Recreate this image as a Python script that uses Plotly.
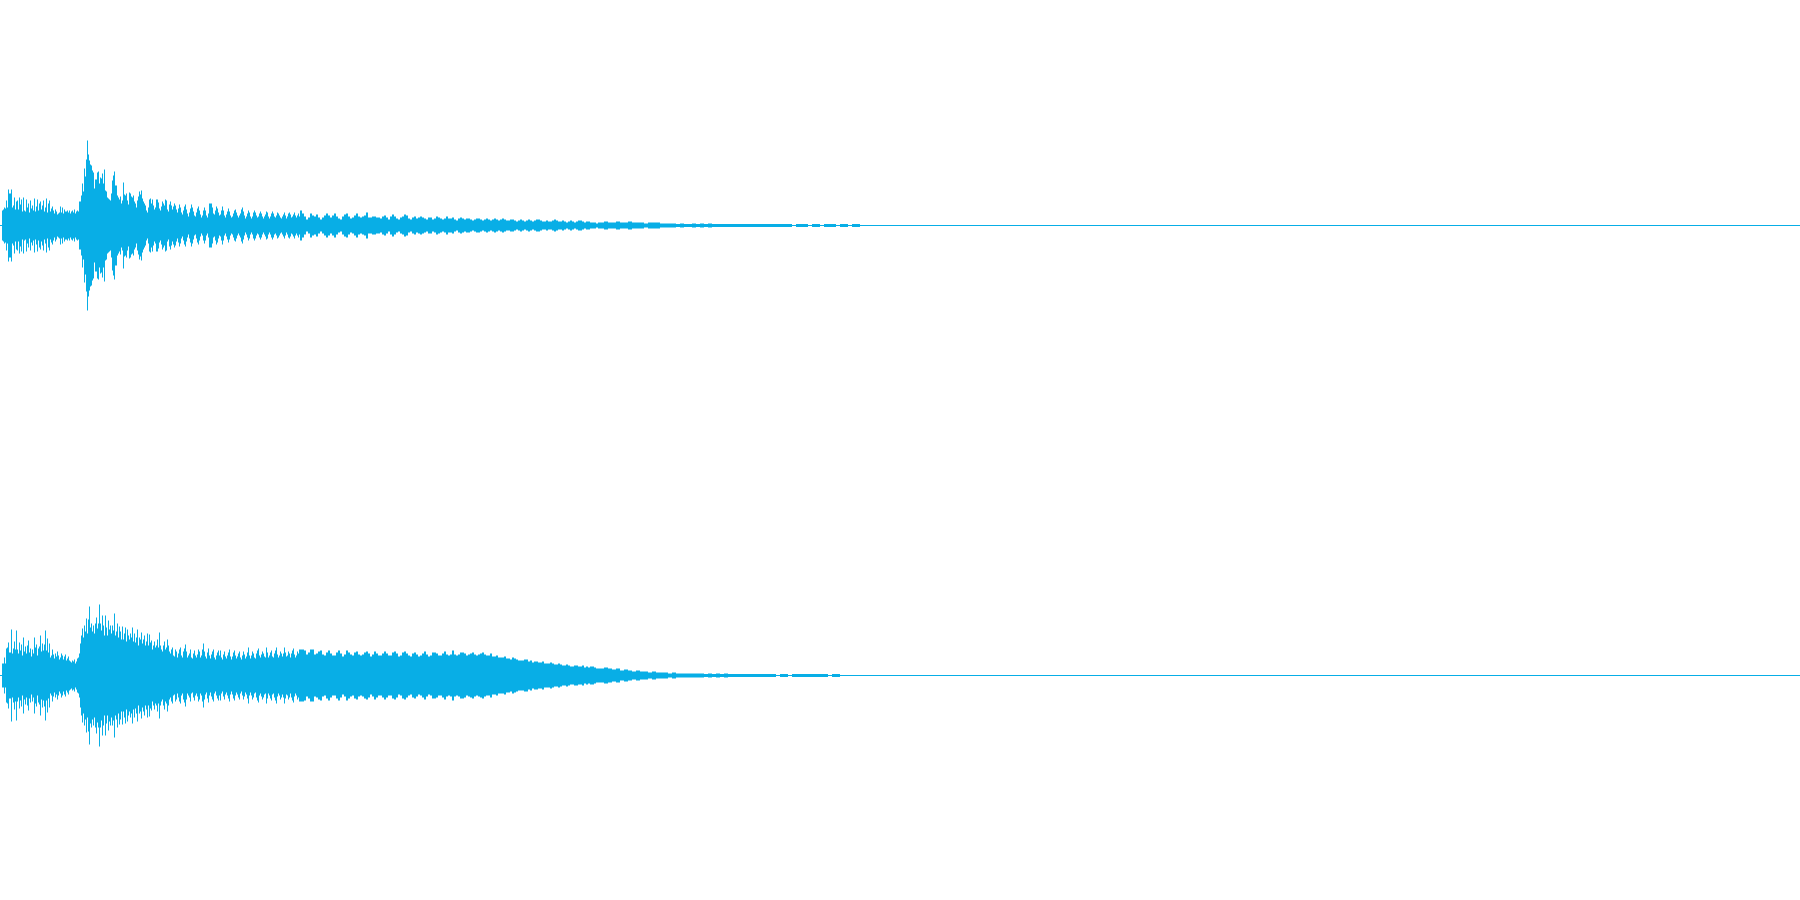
import numpy as np
import plotly.graph_objects as go

# Peak amplitude of each pixel-wide slice of the two audio channels
left_fine = [0.5,0.5,15,16,18,17,25,18,36,32,32,36,18,20,28,16,24,25,16,28,21,26,14,28,15,
14,26,18,22,13,25,17,20,15,27,14,19,26,15,22,24,16,20,25,14,18,27,13,22,25,
14,17,19,15,12,16,14,11,12,13,19,13,18,12,16,14,14,15,13,15,12,14,15,13,16,12,
14,15,14,24,24,30,42,34,57,49,66,85,71,65,61,60,55,53,37,46,46,53,54,42,48,47,52,42,56,35,34,28,27,26,25,32,45,50,54,40,40,30,28,26,29,22,25,43,31,30,32,25,21,33,32,29,28,30,24,22,18,25,29,34,31,35,27,24,22,20,15,13,18,26,27,22,26,20,16,
18,26,26,23,17,15,19,24,22,20,26,25,16,14,21,24,20,16,19,22,20,16,13,17,21,18,13,11,15,19,21,16,12,9,13,17,21,18,14,10,9,13,17,19,15,11,8,10,15,18,15,10,8,12,22,22,22,18,12,11,15,19,17,13,10,11,15,19,15,10,8,11,14,17,14,10,8,9,12,15,16,13,10,8,10,12,16,18,14,10,7,9,12,15,13,9,7,9,13,15,13,10,8,9,12,14,12,9,7,9,11,14,13,9,7,9,12,14,12,9,8,10,13,12,10,8,7,9,11,13,10,7,9,12,13,11,8,
9,11,13,10,8,10,12,9]
left_mid = [15,12,9,6,8,12,10,9,11,8,6,8,10,12,10,8,10,12,9,7,6,9,11,12,9,7,8,10,12,9,8,9,10,13,8,8,9,9,8,8,7,9,10,8,6,9,11,9,7,6,
8,9,11,10,7,6,8,9,7,8,9,8,7,6,8,8,6,7,9,8,7,6,7,9,7,7,8,6,5,7,8,7,6,7,7,6,5,6,7,7,6,5,6,7,6,5,6,7,6,5,
6,7,6,5,5,6,6,5,4,5,6,5,4,5,6,5,4,5,6,6,5,4,4,5,4,4,5,6,5,4,4,5,4,3,4,5,4,3,4,5,5,4,3,4,4,3,3,3,2,3]
left_tail = [3,4,3,3,4,3,3,4,3,3,3,2,3,3,3,
2,2,2,2,1.5,2,1.5,1.5,2,1.5,2,1.5,2,
1.5,1.5,1.5,1.5,1.5,1.5,1.5,1.5,1.5,1.5,1.5,1.5,1.5,1.5,1.5,1.5,1.5,1.5,
1.5,1.5,0.5,1.5,1.5,1.5,0.5,1.5,1.5,0.5,1.5,1.5,1.5,0.5,1.5,1.5,0.5,1.5,1.5]
right_fine = [0.5,0.5,12,12,18,12,27,28,33,23,
23,46,22,27,34,26,45,26,22,33,
25,31,20,38,24,29,22,30,35,23,
27,19,26,22,38,28,31,20,27,29,
40,24,32,25,31,45,25,37,23,32,
18,20,26,21,17,22,19,24,20,16,
18,22,20,16,19,21,15,17,19,15,
14,13,15,14,16,12,14,17,18,22,
32,40,47,38,50,44,57,42,56,69,
48,52,44,50,42,52,58,47,52,71,
52,45,60,50,40,60,48,40,55,46,
50,42,50,45,62,40,44,52,38,49,
44,36,49,36,42,48,34,46,40,36,
42,38,48,34,42,33,38,46,30,38,
36,43,32,36,40,30,34,42,30,41,
33,35,26,30,34,28,30,36,28,43,
30,26,24,30,34,26,28,36,30,24,
22,26,28,20,19,26,24,18,22,26,
28,20,18,24,27,31,24,18,20,22,
26,18,17,22,25,20,18,21,26,24,
18,20,26,32,24,19,17,23,27,20,
17,21,24,26,18,16,20,23,25,20,
25,18,16,21,24,19,17,20,23,26,
19,16,19,23,25,20,17,19,22,24,
18,16,20,24,21,17,19,23,28,20,
17,20,24,22,18,17,22,25,27,20,
18,21,24,22,19,18,28,23,18,20,
23,25,19,18,22,25,28,21,18,20,
24,22,19,22,28,23,19,20,24,22,
18,22,25,27,21,18,20,24,22,26]
right_mid = [26,26,25,21,23,26,26,21,22,24,25,21,20,23,25,22,20,20,23,25,22,19,21,25,23,21,20,23,24,21,20,21,23,24,22,19,21,24,22,20,20,22,24,22,20,20,23,24,22,19,
20,23,24,22,20,19,22,23,21,19,20,22,24,21,19,20,23,23,22,20,20,22,24,21,20,21,25,21,20,21,23,23,22,20,21,22,23,21,20,21,22,23,21,20,20,22,19,19,20,18,
18,18,19,17,17,16,18,17,16,15,15,15,16,16,14,15,13,14,14,13,13,14,12,12,12,13,12,11,11,12,11,10,10,11,10,9,9,10,10,9,9,10,8,9,8,9,9,8,7,7]
right_tail = [7,8,7,6,7,5,6,5,4,5,
4,4,3,4,3,3,3,2,3,2,
2,2,2,2,2,2,1.5,2,1.5,2,
1.5,2,1.5,1.5,1.5,1.5,1.5,1.5,1.5,1.5,
1.5,1.5,1.5,1.5,0.5,1.5,1.5,0.5,1.5,1.5,
1.5,1.5,1.5,1.5,1.5,1.5,1.5,0.5,1.5,1.5,
0.5,0.5,0.5,0.5,0.5]
silence = [0.5]

def column_amps(fine, mid, tail):
    a = list(fine) + list(np.repeat(mid, 2)) + list(np.repeat(tail, 4))
    a += silence * (1800 - len(a))
    return np.array(a, dtype=float)

COLOR = "#08AEE6"
fig = go.Figure()
for amps, ax in ((column_amps(left_fine, left_mid, left_tail), "y"),
                 (column_amps(right_fine, right_mid, right_tail), "y2")):
    fig.add_trace(go.Bar(x=np.arange(1800) + 0.5, y=2 * amps, base=-amps, width=1,
                         marker=dict(color=COLOR, line=dict(width=0)), yaxis=ax))

fig.update_layout(
    width=1800, height=900, autosize=False, showlegend=False, barmode="overlay",
    margin=dict(l=0, r=0, t=0, b=0), paper_bgcolor="white", plot_bgcolor="white",
    xaxis=dict(range=[0, 1800], visible=False, fixedrange=True),
    yaxis=dict(domain=[0.5, 1], range=[-224.5, 225.5], visible=False),
    yaxis2=dict(domain=[0, 0.5], range=[-224.5, 225.5], visible=False),
)
fig.write_html("out.html", config={"displayModeBar": False},
               post_script="document.body.style.margin='0';document.body.style.overflow='hidden';")
